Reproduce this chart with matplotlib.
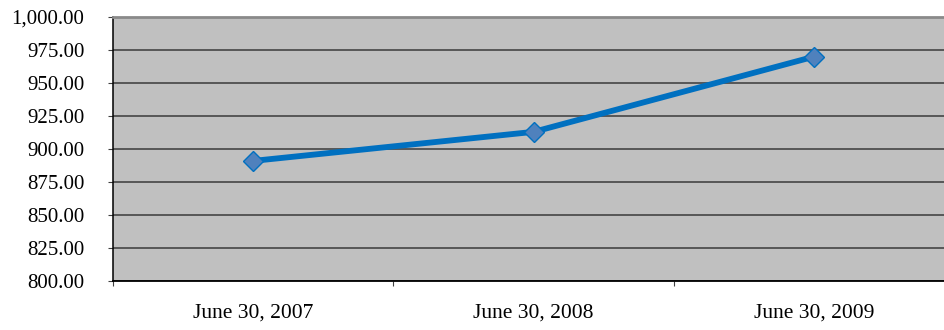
import matplotlib.pyplot as plt
from matplotlib.ticker import FuncFormatter

# data
categories = ["June 30, 2007", "June 30, 2008", "June 30, 2009"]
values = [891.0, 913.0, 970.0]
y_ticks = [800, 825, 850, 875, 900, 925, 950, 975, 1000]

plt.rcParams['font.family'] = ['Liberation Serif', 'DejaVu Serif']

fig = plt.figure(figsize=(9.45, 3.3), dpi=100)
ax = fig.add_axes([113 / 945, 1 - 281 / 330, (954.5 - 113) / 945, (281 - 17) / 330])
ax.set_facecolor("#C0C0C0")

x = list(range(len(categories)))
ax.plot(x, values, color="#0070C0", lw=4.2, marker="D", markersize=10.5,
        markerfacecolor="#4F81BD", markeredgecolor="#0070C0", markeredgewidth=1,
        zorder=3, solid_capstyle="butt")

ax.set_xlim(-0.5, len(categories) - 0.5)
ax.set_ylim(800, 1000)
ax.set_yticks(y_ticks)
ax.yaxis.set_major_formatter(FuncFormatter(lambda v, p: f"{v:,.2f}"))
ax.grid(axis="y", color="#3a3a3a", lw=1.1)
ax.set_axisbelow(True)

ax.set_xticks(x)
ax.set_xticklabels(categories)
ax.set_xticks([i - 0.5 for i in range(len(categories) + 1)], minor=True)
ax.tick_params(axis="x", which="major", length=0, pad=16.5, labelsize=15.5)
ax.tick_params(axis="x", which="minor", length=3.6, width=0.8, direction="out", color="#404040")
ax.tick_params(axis="y", length=3.6, width=0.8, pad=17, labelsize=15, color="#404040")

ax.spines["right"].set_visible(False)
ax.spines["top"].set_color("#8a8a8a")
ax.spines["top"].set_linewidth(2)
ax.spines["left"].set_color("black")
ax.spines["left"].set_linewidth(1.1)
ax.spines["bottom"].set_color("black")
ax.spines["bottom"].set_linewidth(1.3)

fig.savefig("out.png", dpi=100)
